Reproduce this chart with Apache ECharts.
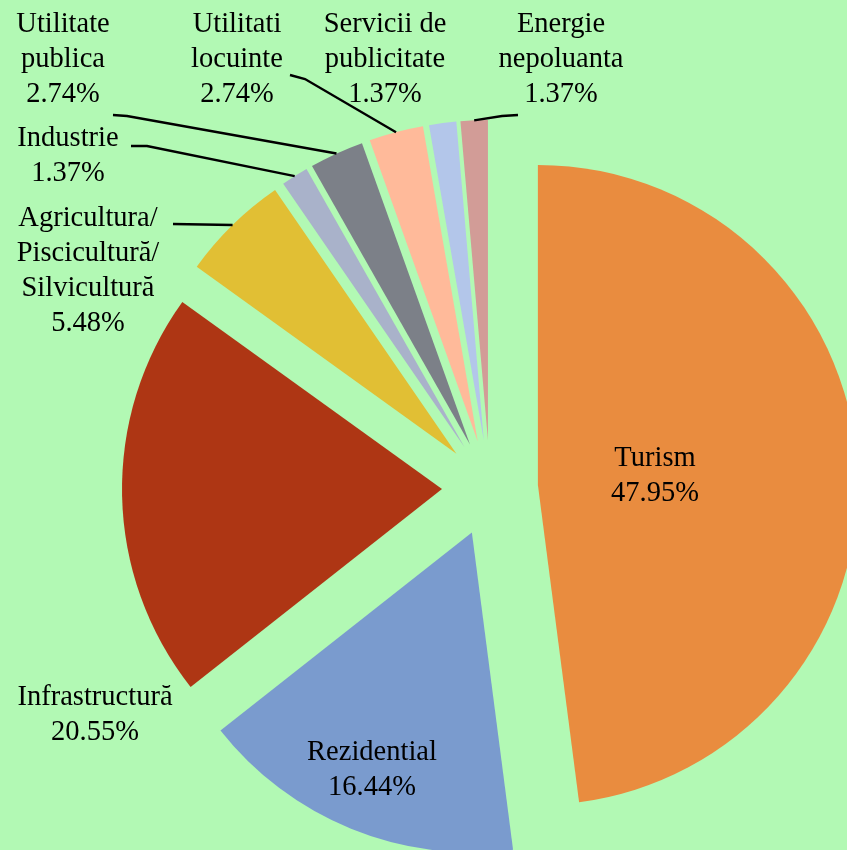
<!DOCTYPE html>
<html>
<head>
<meta charset="utf-8">
<script src="https://cdn.jsdelivr.net/npm/echarts@6/dist/echarts.min.js"></script>
<style>
  html, body { margin: 0; padding: 0; background: #b2f9b4; }
  #chart { width: 847px; height: 850px; }
</style>
</head>
<body>
<div id="chart"></div>
<script>
// sector names and their share (percent), clockwise from 12 o'clock
const categories = [
  'Turism',
  'Rezidential',
  'Infrastructură',
  'Agricultura/\nPiscicultură/\nSilvicultură',
  'Industrie',
  'Utilitate\npublica',
  'Utilitati\nlocuinte',
  'Servicii de\npublicitate',
  'Energie\nnepoluanta'
]
const shares = [47.95, 16.44, 20.55, 5.48, 1.37, 2.74, 2.74, 1.37, 1.37]
const colors = ['#e98c3f', '#7a9bce', '#ae3614', '#e1bf34', '#a9b2ca', '#7c8088', '#ffba9a', '#b3c6ea', '#d29c97']

// label placement (layout only)
const labelPos = [
  [655, 476], [372, 770], [95, 715], [88, 271], [68, 156],
  [63, 60], [237, 60], [385, 60], [561, 60]
]
// extra leader line points, from slice towards label
const linePoints = {
  3: [[173, 224]],
  4: [[147, 146], [131, 146]],
  5: [[127, 116], [113, 115]],
  6: [[305, 79], [290, 75]],
  8: [[502, 116], [518, 115]]
}

const pieCenter = [490, 488]
const pieRadius = 320
const explode = 48

const chart = echarts.init(document.getElementById('chart'), null, { renderer: 'canvas' })
chart.setOption({
  backgroundColor: '#b2f9b4',
  animation: false,
  series: [{
    // exploded slices
    type: 'pie',
    z: 2,
    center: pieCenter,
    radius: pieRadius,
    startAngle: 90,
    clockwise: true,
    selectedMode: 'multiple',
    selectedOffset: explode,
    silent: true,
    label: { show: false },
    labelLine: { show: false },
    data: categories.map((name, i) => ({
      name: name,
      value: shares[i],
      selected: true,
      itemStyle: { color: colors[i] }
    }))
  }, {
    // same pie, invisible, only carries the labels
    type: 'pie',
    z: 5,
    center: pieCenter,
    radius: pieRadius,
    startAngle: 90,
    clockwise: true,
    silent: true,
    avoidLabelOverlap: false,
    itemStyle: { color: 'rgba(0,0,0,0)' },
    label: {
      position: 'outside',
      formatter: '{b}\n{c}%',
      fontFamily: 'Liberation Serif',
      fontSize: 28.5,
      lineHeight: 35,
      width: 300,
      overflow: 'none',
      color: '#000',
      opacity: 1
    },
    labelLine: {
      show: true,
      lineStyle: { color: '#000', width: 2.4, opacity: 1 }
    },
    labelLayout: function (params) {
      const i = params.dataIndex
      const res = {
        x: labelPos[i][0],
        y: labelPos[i][1],
        align: 'center',
        verticalAlign: 'middle'
      }
      if (linePoints[i] && params.labelLinePoints) {
        const p0 = params.labelLinePoints[0]
        const dx = p0[0] - pieCenter[0]
        const dy = p0[1] - pieCenter[1]
        const len = Math.sqrt(dx * dx + dy * dy)
        const a = [p0[0] + dx / len * explode, p0[1] + dy / len * explode]
        res.labelLinePoints = [a].concat(linePoints[i])
      }
      return res
    },
    data: categories.map((name, i) => ({
      name: name,
      value: shares[i],
      labelLine: { show: !!linePoints[i] }
    }))
  }]
})
</script>
</body>
</html>
